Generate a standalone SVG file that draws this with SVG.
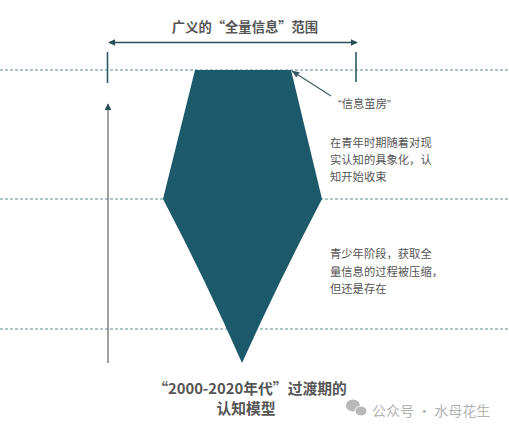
<svg xmlns="http://www.w3.org/2000/svg" width="509" height="430" viewBox="0 0 509 430">
<defs>
<style>
.dash{stroke:#5f8e96;stroke-width:1.1;stroke-dasharray:3 2;fill:none}
.tick{stroke:#2b5a63;stroke-width:1.6}
.note{font-family:"Liberation Sans","Noto Sans CJK SC",sans-serif;font-size:11.3px;fill:#555}
.title{font-family:"Noto Sans CJK SC",sans-serif;font-weight:bold;fill:#555}
.wm{font-family:"Noto Sans CJK SC",sans-serif;font-size:14px;fill:#b3b3b3}
</style>
<marker id="ah" viewBox="0 0 10 10" refX="9" refY="5" markerWidth="7" markerHeight="7" orient="auto-start-reverse" markerUnits="userSpaceOnUse">
<path d="M0,0 L10,5 L0,10 z" fill="#2b4d55"/>
</marker>
<marker id="ah2" viewBox="0 0 10 10" refX="9" refY="5" markerWidth="8" markerHeight="8" orient="auto" markerUnits="userSpaceOnUse">
<path d="M0,1 L10,5 L0,9 z" fill="#3a5a63"/>
</marker>
</defs>
<rect width="509" height="430" fill="#fff"/>
<g id="guides">
<line class="dash" x1="0" y1="70" x2="509" y2="70"/>
<line class="dash" x1="0" y1="199" x2="509" y2="199"/>
<line class="dash" x1="0" y1="329" x2="509" y2="329"/>
</g>
<g id="shape">
<path d="M195,70 L291,70 L322,199 Q279,281 242,363 Q206,281 163,199 Z" fill="#1c5a6b"/>
</g>
<g id="connectors">
<line x1="109" y1="42.5" x2="357" y2="42.5" stroke="#2b4d55" stroke-width="1.6" marker-start="url(#ah)" marker-end="url(#ah)"/>
<line class="tick" x1="107.5" y1="52" x2="107.5" y2="83"/>
<line class="tick" x1="356" y1="52" x2="356" y2="82"/>
<line x1="108" y1="363" x2="108" y2="104" stroke="#555" stroke-width="1.1" marker-end="url(#ah)"/>
<line x1="331" y1="96" x2="292" y2="71" stroke="#3a5a63" stroke-width="1.1" marker-end="url(#ah2)"/>
</g>
<g id="title-top">
<text class="title" x="245" y="31.5" font-size="13.3" text-anchor="middle">广义的“全量信息”范围</text>
</g>
<g id="label-cocoon">
<text class="note" x="338" y="107.5" font-size="11">“信息茧房”</text>
</g>
<g id="note-youth">
<text class="note"><tspan x="330" y="147">在青年时期随着对现</tspan><tspan x="330" y="164.3">实认知的具象化，认</tspan><tspan x="330" y="181">知开始收束</tspan></text>
</g>
<g id="note-teen">
<text class="note"><tspan x="330" y="258.3">青少年阶段，获取全</tspan><tspan x="330" y="276">量信息的过程被压缩，</tspan><tspan x="330" y="292.7">但还是存在</tspan></text>
</g>
<g id="title-bottom">
<text class="title" font-size="14.8" text-anchor="middle"><tspan x="250" y="394.3">“2000-2020年代”过渡期的</tspan><tspan x="246" y="414">认知模型</tspan></text>
</g>
<g id="watermark">
<ellipse cx="353" cy="405.5" rx="7" ry="6" fill="#b8b8b8"/>
<ellipse cx="361" cy="411" rx="6" ry="5" fill="#b8b8b8" stroke="#fff" stroke-width="1"/>
<text class="wm" x="372" y="415.5">公众号 · 水母花生</text>
</g>
</svg>
